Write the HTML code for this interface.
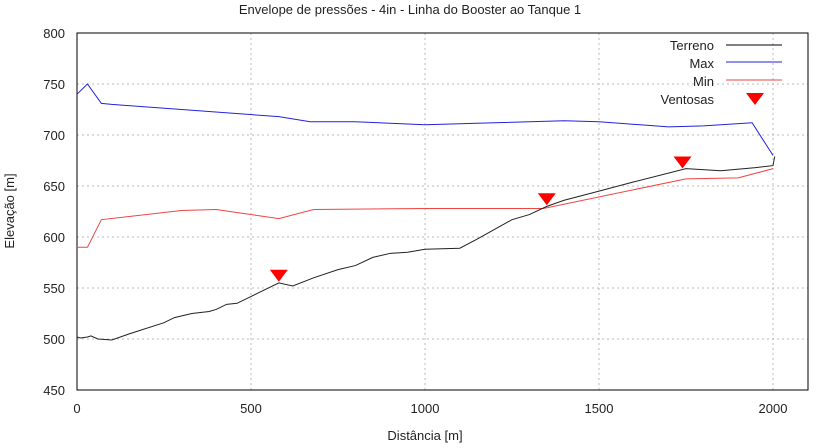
<!DOCTYPE html>
<html><head><meta charset="utf-8"><style>
body{margin:0;background:#fff;font-family:"Liberation Sans",sans-serif}
svg text{font-family:"Liberation Sans",sans-serif;fill:#222}
</style></head><body>
<svg width="820" height="443" xmlns="http://www.w3.org/2000/svg">
<text x="410" y="14" font-size="13" text-anchor="middle">Envelope de pressões - 4in - Linha do Booster ao Tanque 1</text>
<g id="grid"></g>
<g id="axes"></g>
<g id="series"></g>
<text x="425" y="440" font-size="13" text-anchor="middle">Distância [m]</text>
<text transform="translate(14,211) rotate(-90)" font-size="13" text-anchor="middle">Elevação [m]</text>
<g>
<text x="714" y="50" font-size="13" text-anchor="end">Terreno</text>
<line x1="726" y1="45" x2="782" y2="45" stroke="#000"/>
<text x="714" y="68" font-size="13" text-anchor="end">Max</text>
<line x1="726" y1="62" x2="782" y2="62" stroke="#2222dd"/>
<text x="714" y="86" font-size="13" text-anchor="end">Min</text>
<line x1="726" y1="80" x2="782" y2="80" stroke="#ee4444"/>
<text x="714" y="104" font-size="13" text-anchor="end">Ventosas</text>
<polygon points="746,93 764,93 755,105" fill="#ff0000"/>
</g>
</svg>
<script>
const xTicks=[0,500,1000,1500,2000];
const yTicks=[450,500,550,600,650,700,750,800];
const terrenoX=[0,10,30,40,60,100,150,250,280,330,380,400,430,460,520,580,620,680,750,800,850,900,950,1000,1100,1150,1250,1300,1350,1400,1500,1600,1750,1850,1950,2000,2005];
const terrenoY=[502,501,502,503,500,499,505,516,521,525,527,529,534,535,545,555,552,560,568,572,580,584,585,588,589,598,617,622,630,636,645,654,667,665,668,670,679];
const maxX=[0,30,70,100,580,670,800,1000,1200,1400,1500,1700,1800,1940,2000];
const maxY=[740,750,731,730,718,713,713,710,712,714,713,708,709,712,680];
const minX=[0,30,70,300,400,580,680,1000,1340,1750,1900,2000];
const minY=[590,590,617,626,627,618,627,628,628,657,658,667];
const ventX=[580,1350,1740];
const ventY=[562,637,673];
const L=77,R=808,T=33,B=390;
const sx=v=>L+v*(773-77)/2000;
const sy=v=>B-(v-450)*(B-T)/350;
const NS='http://www.w3.org/2000/svg';
function mk(tag,attrs,parent){const e=document.createElementNS(NS,tag);for(const k in attrs)e.setAttribute(k,attrs[k]);document.getElementById(parent).appendChild(e);return e;}
xTicks.forEach(v=>{
 const g=mk('line',{x1:sx(v),x2:sx(v),y1:T,y2:B,stroke:'#bbb','stroke-dasharray':'2,3'},'grid');
 
 
 const t=mk('text',{x:sx(v),y:B+23,'font-size':13,'text-anchor':'middle'},'axes');t.textContent=v;
 
 
});
yTicks.forEach(v=>{
 const g=mk('line',{x1:L,x2:R,y1:sy(v),y2:sy(v),stroke:'#bbb','stroke-dasharray':'2,3'},'grid');
 
 
 const t=mk('text',{x:L-12,y:sy(v)+5,'font-size':13,'text-anchor':'end'},'axes');t.textContent=v;
 
 
});
const fr=mk('rect',{x:L,y:T,width:R-L,height:B-T,fill:'none',stroke:'#000'},'axes');


function line(xs,ys,c,name){
 const p=mk('polyline',{points:xs.map((x,i)=>sx(x)+','+sy(ys[i])).join(' '),fill:'none',stroke:c,'stroke-width':1},'series');
 
 
}
line(maxX,maxY,'#2222dd','max-line');
line(minX,minY,'#ee4444','min-line');
line(terrenoX,terrenoY,'#222','terreno-line');
ventX.forEach((x,i)=>{
 const cx=sx(x),cy=sy(ventY[i]);
 const p=mk('polygon',{points:`${cx-9},${cy-6} ${cx+9},${cy-6} ${cx},${cy+6}`,fill:'#ff0000'},'series');
 
 
});
</script>
</body></html>
